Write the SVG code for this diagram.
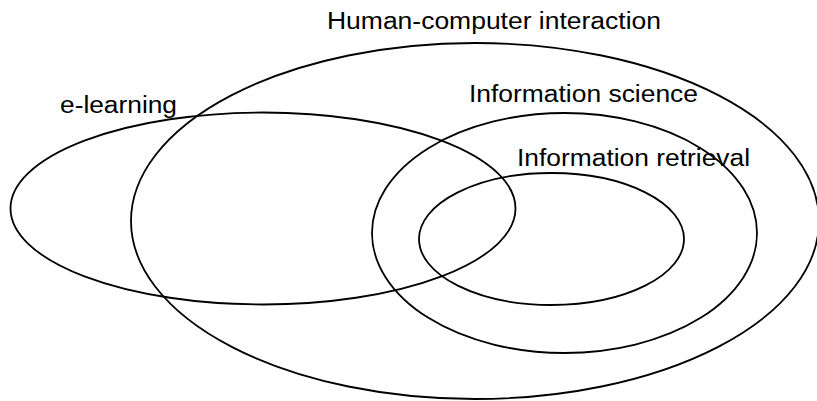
<svg xmlns="http://www.w3.org/2000/svg" width="817" height="401" viewBox="0 0 817 401">
<style>
.set{fill:none;stroke:#000;stroke-width:1.8}
.lbl{font-family:"Liberation Sans",Arial,sans-serif;font-size:23px;fill:#000}
</style>
<rect width="817" height="401" fill="#fff"/>
<g id="hci">
<ellipse class="set" cx="475" cy="221" rx="344" ry="178"/>
<text class="lbl" x="327" y="29" textLength="334" lengthAdjust="spacingAndGlyphs">Human-computer interaction</text>
</g>
<g id="elearning">
<ellipse class="set" cx="263" cy="208.5" rx="252.5" ry="96"/>
<text class="lbl" x="60" y="113" textLength="117" lengthAdjust="spacingAndGlyphs">e-learning</text>
</g>
<g id="infosci">
<ellipse class="set" cx="564.5" cy="233" rx="192.5" ry="120"/>
<text class="lbl" x="469" y="102" textLength="229" lengthAdjust="spacingAndGlyphs">Information science</text>
</g>
<g id="inforet">
<ellipse class="set" cx="551.5" cy="239" rx="132.5" ry="66"/>
<text class="lbl" x="517" y="166" textLength="233" lengthAdjust="spacingAndGlyphs">Information retrieval</text>
</g>
<g id="connectors"/>
</svg>
